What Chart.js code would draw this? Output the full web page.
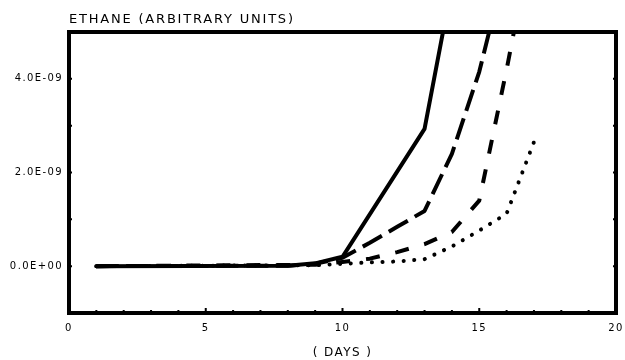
<!DOCTYPE html>
<html>
<head>
<meta charset="utf-8">
<script src="https://cdn.jsdelivr.net/npm/chart.js@4.4.1/dist/chart.umd.min.js"></script>
<style>
  html, body { margin: 0; padding: 0; background: #fff; }
  #wrap { width: 625px; height: 360px; }
</style>
</head>
<body>
<div id="wrap"><canvas id="ethaneChart"></canvas></div>
<script>
// ethane concentration vs time, four runs (arbitrary units, x1e-9)
let solid_days = [1, 8, 9, 10, 13, 14];
let solid_vals = [0, 0.01, 0.06, 0.2, 2.93, 6.0];

let long_dash_days = [1, 8, 9, 10, 11, 12, 13, 14, 15, 16];
let long_dash_vals = [0, 0.01, 0.05, 0.18, 0.5, 0.84, 1.18, 2.4, 4.15, 6.5];

let short_dash_days = [1, 9, 10, 11, 12, 13, 14, 15, 16, 17];
let short_dash_vals = [0, 0.03, 0.09, 0.16, 0.3, 0.47, 0.73, 1.4, 4.2, 7.2];

let dot_days = [1, 9, 10, 11, 12, 13, 14, 15, 16, 17];
let dot_vals = [0, 0.02, 0.05, 0.08, 0.1, 0.15, 0.42, 0.76, 1.12, 2.65];

let y_label_vals = [0, 2e-9, 4e-9];
let y_label_text = ['0.0E+00', '2.0E-09', '4.0E-09'];

let chart_title = 'ETHANE (ARBITRARY UNITS)';
let x_title = '( DAYS )';

const SCALE = 1e-9;

function points(days, vals) {
  return days.map((d, i) => ({x: d, y: vals[i] * SCALE}));
}

function line_set(label, days, vals, dash, width, cap) {
  return {
    label: label,
    data: points(days, vals),
    borderColor: '#000',
    borderWidth: width,
    borderDash: dash,
    borderCapStyle: cap,
    borderJoinStyle: 'round',
    pointRadius: 0,
    tension: 0,
    fill: false,
    clip: 0
  };
}

const FONT = 'DejaVu Sans';

// thick frame, inward tick marks and the heading
let framePlugin = {
  id: 'frame',
  beforeDraw(chart) {
    // wide plotter-style lettering for the axis text
    chart.ctx.letterSpacing = '1.4px';
  },
  afterDatasetsDraw(chart) {
    let ctx = chart.ctx;
    let a = chart.chartArea;
    let xs = chart.scales.x;
    let ys = chart.scales.y;
    ctx.save();
    ctx.strokeStyle = '#000';
    ctx.lineWidth = 4;
    ctx.strokeRect(a.left, a.top, a.right - a.left, a.bottom - a.top);

    ctx.lineWidth = 2;
    ctx.beginPath();
    for (let d = 1; d < 20; ++d) {
      let px = xs.getPixelForValue(d);
      let len = (d % 5 === 0) ? 5 : 3;
      ctx.moveTo(px, a.bottom);
      ctx.lineTo(px, a.bottom - len);
    }
    for (let v = -1; v <= 4; ++v) {
      let py = ys.getPixelForValue(v * SCALE);
      ctx.moveTo(a.left - 2, py);
      ctx.lineTo(a.left + 3, py);
      ctx.moveTo(a.right, py);
      ctx.lineTo(a.right - 3, py);
    }
    ctx.stroke();
    ctx.restore();
  },
  afterDraw(chart) {
    let ctx = chart.ctx;
    let a = chart.chartArea;
    ctx.save();
    ctx.fillStyle = '#000';
    ctx.font = '13px "' + FONT + '"';
    ctx.letterSpacing = '1.8px';
    ctx.textAlign = 'left';
    ctx.textBaseline = 'middle';
    ctx.fillText(chart_title, a.left, 20);
    ctx.restore();
  }
};

let ctx_main = document.getElementById('ethaneChart');

let ethaneChart = new Chart(ctx_main, {
  type: 'line',
  data: {
    datasets: [
      line_set('Run 1', solid_days, solid_vals, [], 4, 'round'),
      line_set('Run 2', long_dash_days, long_dash_vals, [22, 8], 4, 'butt'),
      line_set('Run 3', short_dash_days, short_dash_vals, [14, 16], 4, 'butt'),
      line_set('Run 4', dot_days, dot_vals, [0.1, 10.5], 4, 'round')
    ]
  },
  options: {
    responsive: true,
    maintainAspectRatio: false,
    animation: false,
    layout: {padding: {left: 0, right: 9, top: 32, bottom: 0}},
    plugins: {
      legend: {display: false},
      tooltip: {enabled: false}
    },
    scales: {
      x: {
        type: 'linear',
        min: 0,
        max: 20,
        grid: {display: false, drawTicks: false},
        border: {display: false},
        ticks: {
          stepSize: 5,
          padding: 9,
          color: '#000',
          font: {family: FONT, size: 10}
        },
        title: {
          display: true,
          text: x_title,
          color: '#000',
          font: {family: FONT, size: 12},
          padding: {top: 6, bottom: 0}
        },
        afterFit(scale) {
          scale.height = 47;
          scale.paddingRight = 0;
        }
      },
      y: {
        type: 'linear',
        min: -1 * SCALE,
        max: 5 * SCALE,
        grid: {display: false, drawTicks: false},
        border: {display: false},
        ticks: {
          stepSize: SCALE,
          padding: 6,
          color: '#000',
          font: {family: FONT, size: 10},
          callback: function(value) {
            for (let i = 0; i < y_label_vals.length; ++i) {
              if (Math.abs(value - y_label_vals[i]) < 1e-12) return y_label_text[i];
            }
            return '';
          }
        },
        afterFit(scale) { scale.width = 69; }
      }
    }
  },
  plugins: [framePlugin]
});
</script>
</body>
</html>
